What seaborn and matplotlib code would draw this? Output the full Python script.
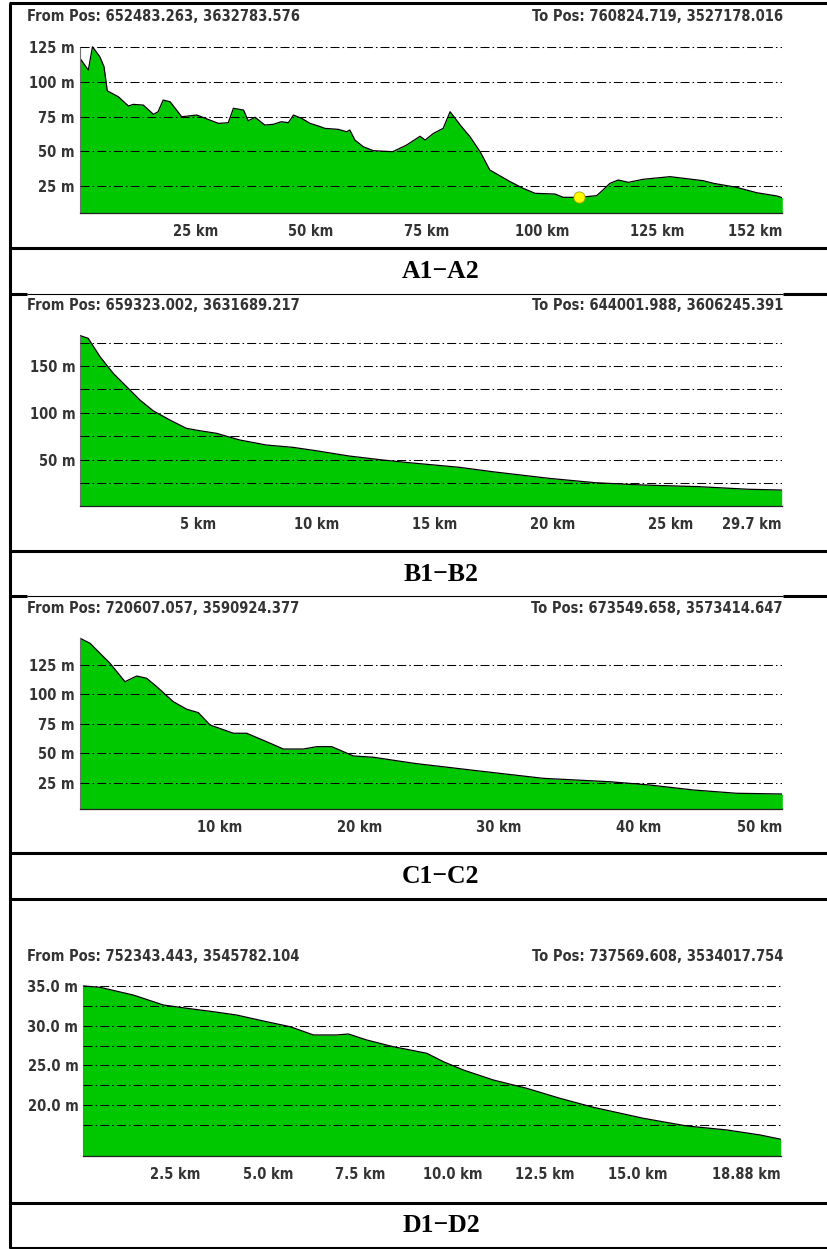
import numpy as np
import matplotlib
matplotlib.use('Agg')
import matplotlib.pyplot as plt
import seaborn as sns

sns.set_style('white')
plt.rcParams['font.family'] = ['DejaVu Sans']
plt.rcParams['font.stretch'] = 'condensed'
plt.rcParams['lines.scale_dashes'] = False

W, H = 828, 1249
GREEN = '#00c800'
TXT = '#333333'
FS = 10.5

# ---- profile A1-A2 (km, m)
a_km = [0, 1.8, 2.7, 4.3, 5.2, 5.9, 8.3, 10.5, 11.5, 13.7, 15.9, 16.9, 18.0, 19.5, 20.6,
        22.0, 25.3, 28.1, 30.0, 32.1, 33.2, 35.4, 36.4, 37.9, 40.0, 41.8, 43.6, 45.1,
        46.2, 48.0, 49.8, 51.6, 53.0, 55.9, 57.7, 58.4, 59.5, 61.3, 63.5, 67.7, 70.7,
        73.6, 74.7, 76.5, 78.6, 80.1, 82.3, 84.4, 86.6, 88.7, 93.1, 95.9, 98.5, 102.8,
        104.6, 107.9, 111.8, 112.8, 114.7, 116.5, 118.7, 121.9, 127.7, 134.9, 137.1,
        142.1, 146.5, 150.8, 152.0]
a_elev = [117.0, 108.5, 125.3, 118.1, 110.9, 93.6, 89.3, 82.6, 83.8, 83.3, 76.6, 78.5,
          86.9, 85.7, 81.0, 74.9, 76.1, 72.5, 70.1, 70.6, 81.0, 79.7, 72.0, 74.5, 68.9,
          69.4, 71.3, 70.6, 76.1, 73.7, 70.1, 68.2, 66.5, 65.8, 64.1, 65.3, 58.1, 53.3,
          50.4, 49.7, 54.5, 60.8, 58.1, 62.9, 66.5, 78.5, 68.9, 60.5, 49.7, 36.5, 28.1,
          23.3, 19.7, 19.2, 16.8, 16.8, 18.0, 20.9, 26.9, 29.3, 27.6, 29.8, 31.7, 28.8,
          26.9, 24.0, 20.1, 17.8, 16.5]
a_mark_km = [107.9]
a_mark_elev = [16.8]
a_from = 'From Pos: 652483.263, 3632783.576'
a_to = 'To Pos: 760824.719, 3527178.016'
a_xticks = [0, 25, 50, 75, 100, 125, 150, 152]
a_xlabels = ['', '25 km', '50 km', '75 km', '100 km', '125 km', '', '152 km']
a_yticks = [25, 50, 75, 100, 125]
a_ylabels = ['25 m', '50 m', '75 m', '100 m', '125 m']

# ---- profile B1-B2
b_km = [0, 0.33, 0.83, 1.39, 2.1, 2.52, 3.08, 3.79, 4.49, 5.05, 5.76, 6.74, 7.87, 9.0,
        9.98, 11.39, 12.8, 13.92, 16.04, 17.44, 19.84, 21.81, 23.78, 26.18, 28.29, 29.7]
b_elev = [182.4, 179.6, 160.0, 142.2, 124.4, 113.7, 102.2, 92.3, 83.4, 80.9, 78.1, 71.0,
          65.6, 63.1, 59.5, 53.8, 49.6, 46.7, 41.8, 37.1, 30.0, 25.3, 22.9, 21.1, 18.3, 17.5]
b_from = 'From Pos: 659323.002, 3631689.217'
b_to = 'To Pos: 644001.988, 3606245.391'
b_xticks = [0, 5, 10, 15, 20, 25, 29.7]
b_xlabels = ['', '5 km', '10 km', '15 km', '20 km', '25 km', '29.7 km']
b_yticks = [25, 50, 75, 100, 125, 150, 175]
b_ylabels = ['', '50 m', '', '100 m', '', '150 m', '']

# ---- profile C1-C2
c_km = [0, 0.72, 1.43, 2.15, 3.22, 4.06, 4.77, 5.49, 6.68, 7.64, 8.47, 9.31, 10.98,
        11.93, 13.36, 14.56, 15.99, 16.94, 18.02, 19.57, 21.0, 24.0, 28.39, 33.16, 37.94,
        40.8, 43.9, 47.0, 50.27]
c_elev = [147.7, 143.4, 134.9, 126.4, 110.8, 115.6, 113.7, 106.6, 93.8, 87.4, 84.5, 74.0,
          67.0, 67.0, 59.8, 53.6, 53.6, 55.6, 55.6, 47.7, 46.6, 41.3, 35.2, 28.7, 25.8,
          23.0, 18.8, 16.0, 15.4]
c_from = 'From Pos: 720607.057, 3590924.377'
c_to = 'To Pos: 673549.658, 3573414.647'
c_xticks = [0, 10, 20, 30, 40, 50, 50.27]
c_xlabels = ['', '10 km', '20 km', '30 km', '40 km', '', '50 km']
c_yticks = [25, 50, 75, 100, 125]
c_ylabels = ['25 m', '50 m', '75 m', '100 m', '125 m']

# ---- profile D1-D2
d_km = [0, 0.45, 1.35, 2.17, 2.8, 3.52, 4.15, 4.96, 5.6, 6.23, 6.86, 7.18, 7.67, 8.39,
        8.85, 9.3, 9.75, 10.29, 11.1, 12.0, 12.9, 13.81, 15.16, 16.34, 17.42, 18.32, 18.88]
d_elev = [35.0, 34.83, 33.86, 32.6, 32.19, 31.76, 31.34, 30.5, 29.87, 28.83, 28.83, 28.95,
          28.2, 27.35, 26.94, 26.52, 25.46, 24.42, 23.16, 22.12, 20.86, 19.72, 18.34,
          17.37, 16.87, 16.24, 15.7]
d_from = 'From Pos: 752343.443, 3545782.104'
d_to = 'To Pos: 737569.608, 3534017.754'
d_xticks = [0, 2.5, 5.0, 7.5, 10.0, 12.5, 15.0, 17.5, 18.88]
d_xlabels = ['', '2.5 km', '5.0 km', '7.5 km', '10.0 km', '12.5 km', '15.0 km', '', '18.88 km']
d_yticks = [17.5, 20.0, 22.5, 25.0, 27.5, 30.0, 32.5, 35.0]
d_ylabels = ['', '20.0 m', '', '25.0 m', '', '30.0 m', '', '35.0 m']

row_labels = ['A1−A2', 'B1−B2', 'C1−C2', 'D1−D2']

fig = plt.figure(figsize=(W / 100, H / 100), dpi=100)

# background "table" drawn in pixel coordinates
bg = fig.add_axes([0, 0, 1, 1])
bg.set_xlim(0, W)
bg.set_ylim(H, 0)
bg.axis('off')

thick, thin = 2.2, 0.8
bg.plot([10, 10], [3, 1248], color='black', lw=thick, solid_capstyle='butt')
for y in [3, 248, 551, 853, 899, 1203, 1248]:
    bg.plot([9, W], [y, y], color='black', lw=thick, solid_capstyle='butt')
for y in [294, 596]:
    bg.plot([9, 27], [y, y], color='black', lw=thick, solid_capstyle='butt')
    bg.plot([27, 783], [y, y], color='black', lw=thin, solid_capstyle='butt')
    bg.plot([783, W], [y, y], color='black', lw=thick, solid_capstyle='butt')

for lab, yc in zip(row_labels, [271, 574, 876, 1226]):
    bg.text(441, yc, lab, ha='center', va='center', fontsize=18.5, fontweight='bold',
            family=['Liberation Serif', 'DejaVu Serif'], fontstretch='normal', color='black')

for ft, tt, yc in [(a_from, a_to, 16.5), (b_from, b_to, 305.5), (c_from, c_to, 608),
                   (d_from, d_to, 956.5)]:
    bg.text(27, yc, ft, ha='left', va='center', fontsize=FS, fontweight='bold', color=TXT)
    bg.text(783, yc, tt, ha='right', va='center', fontsize=FS, fontweight='bold', color=TXT)


def profile(box, km, elev, ylim, xticks, xlabels, yticks, ylabels):
    left, right, top, bottom = box
    ax = fig.add_axes([left / W, 1 - bottom / H, (right - left) / W, (bottom - top) / H])
    ax.set_facecolor('none')
    ax.fill_between(km, elev, ylim[0], color=GREEN, lw=0, zorder=1)
    sns.lineplot(x=km, y=elev, color='black', lw=0.9, sort=False, estimator=None,
                 ax=ax, zorder=2)
    ax.set_xlim(0, km[-1])
    ax.set_ylim(*ylim)
    ax.set_axisbelow(False)
    ax.yaxis.grid(True, color='black', lw=0.75, linestyle=(0, (6.5, 2.2, 1.1, 2.2)))
    ax.xaxis.grid(False)
    ax.set_yticks(yticks, ylabels)
    ax.set_xticks(xticks, xlabels)
    ax.get_xticklabels()[-1].set_ha('right')
    for t in ax.get_xticklabels() + ax.get_yticklabels():
        t.set_fontweight('bold')
    ax.tick_params(axis='y', length=0, pad=3.6, labelsize=FS, labelcolor=TXT)
    ax.tick_params(axis='x', length=5, width=0.8, color='#808080', pad=3,
                   labelsize=FS, labelcolor=TXT)
    for s in ['top', 'right']:
        ax.spines[s].set_visible(False)
    ax.spines['left'].set_bounds(ylim[0], max(elev))
    ax.spines['left'].set_color('#707070')
    ax.spines['left'].set_linewidth(0.8)
    ax.spines['bottom'].set_color('#202020')
    ax.spines['bottom'].set_linewidth(0.9)
    ax.set_xlabel('')
    ax.set_ylabel('')
    return ax


ax_a = profile((80, 782.3, 40, 213.3), a_km, a_elev, (5.3, 130.2),
               a_xticks, a_xlabels, a_yticks, a_ylabels)
sns.scatterplot(x=a_mark_km, y=a_mark_elev, color='#ffff00', edgecolor='#b4a000',
                s=65, linewidth=0.6, zorder=4, ax=ax_a)
profile((80.4, 781.7, 330, 505.7), b_km, b_elev, (0.75, 188.5),
        b_xticks, b_xlabels, b_yticks, b_ylabels)
profile((80, 782.3, 630, 809), c_km, c_elev, (2.65, 154.7),
        c_xticks, c_xlabels, c_yticks, c_ylabels)
profile((83.3, 780.7, 980, 1155.7), d_km, d_elev, (13.63, 35.75),
        d_xticks, d_xlabels, d_yticks, d_ylabels)

fig.savefig('out.png', dpi=100)
